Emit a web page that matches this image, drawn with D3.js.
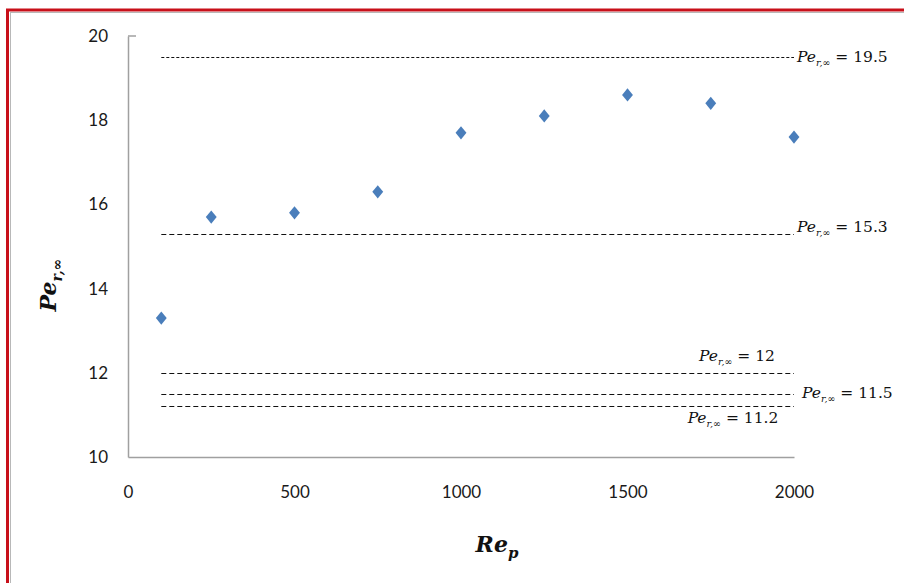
<!DOCTYPE html>
<html>
<head>
<meta charset="utf-8">
<script src="https://cdn.jsdelivr.net/npm/d3@7"></script>
<style>
  html, body { margin: 0; padding: 0; background: #fff; }
  svg { display: block; }
</style>
</head>
<body>
<svg id="chart" width="904" height="583"></svg>
<script>
// Radial Peclet number versus particle Reynolds number
const reValues = [100, 250, 500, 750, 1000, 1250, 1500, 1750, 2000];
const peValues = [13.3, 15.7, 15.8, 16.3, 17.7, 18.1, 18.6, 18.4, 17.6];

// Reference levels drawn as dashed lines
const refLevels = [19.5, 15.3, 12, 11.5, 11.2];
const refLabels = ["19.5", "15.3", "12", "11.5", "11.2"];

const xTicks = [0, 500, 1000, 1500, 2000];
const yTicks = [10, 12, 14, 16, 18, 20];

const svg = d3.select("#chart");

// frame
svg.append("rect").attr("x", 10.5).attr("y", 12.5).attr("width", 900).attr("height", 600)
  .attr("fill", "none").attr("stroke", "#b8b8b8").attr("stroke-width", 1);
svg.append("rect").attr("x", 7.5).attr("y", 10).attr("width", 905).attr("height", 600)
  .attr("fill", "none").attr("stroke", "#c8101a").attr("stroke-width", 3);

const x = d3.scaleLinear().domain([0, 2000]).range([128, 794]);
const y = d3.scaleLinear().domain([10, 20]).range([457, 36]);

const axisColor = "#a0a0a0";
const tickFont = "Lato, 'Liberation Sans', sans-serif";

// y axis
const yAxis = svg.append("g").attr("transform", "translate(128,0)")
  .call(d3.axisLeft(y).tickValues(yTicks).tickFormat(d3.format("d")).tickSize(0).tickPadding(20));
yAxis.select(".domain").attr("stroke", axisColor).attr("stroke-width", 1.5);
yAxis.selectAll("text").attr("font-family", tickFont).attr("font-size", 17).attr("fill", "#1a1a1a");
// small cap at top of y axis
svg.append("line").attr("x1", 128).attr("x2", 136).attr("y1", y(20)).attr("y2", y(20))
  .attr("stroke", axisColor).attr("stroke-width", 1.5);

// x axis
const xAxis = svg.append("g").attr("transform", "translate(0,457)")
  .call(d3.axisBottom(x).tickValues(xTicks).tickFormat(d3.format("d")).tickSize(0).tickPadding(29));
xAxis.select(".domain").attr("stroke", axisColor).attr("stroke-width", 1.5);
xAxis.selectAll("text").attr("font-family", tickFont).attr("font-size", 17).attr("fill", "#1a1a1a");

// reference lines
const lineStart = 100, lineEnd = 2000;
svg.append("g").selectAll("line").data(refLevels).join("line")
  .attr("x1", x(lineStart)).attr("x2", x(lineEnd))
  .attr("y1", d => Math.round(y(d)) + 0.5).attr("y2", d => Math.round(y(d)) + 0.5)
  .attr("stroke", "#111").attr("stroke-width", 1.2)
  .attr("stroke-dasharray", (d, i) => i === 0 ? "3,2" : "5,3");

// reference labels
const labelPos = [
  { dx: 797, dy: 62, anchor: "start" },
  { dx: 797, dy: 232, anchor: "start" },
  { dx: 737, dy: 361, anchor: "middle" },
  { dx: 802, dy: 398, anchor: "start" },
  { dx: 733, dy: 423, anchor: "middle" }
];
const labelG = svg.append("g");
refLabels.forEach((lab, i) => {
  const p = labelPos[i];
  const t = labelG.append("text")
    .attr("x", p.dx).attr("y", p.dy)
    .attr("text-anchor", p.anchor)
    .attr("font-family", "'DejaVu Serif', 'Liberation Serif', serif")
    .attr("font-size", 15.5).attr("fill", "#111");
  t.append("tspan").attr("font-style", "italic").text("Pe");
  t.append("tspan").attr("font-style", "italic").attr("font-size", 9.5).attr("dy", 4).text("r,∞");
  t.append("tspan").attr("dy", -4).text(" = " + lab);
});

// data markers
const diamond = d3.symbol().type(d3.symbolDiamond).size(56);
svg.append("g").selectAll("path").data(reValues).join("path")
  .attr("d", diamond)
  .attr("transform", (d, i) => `translate(${x(d)},${y(peValues[i])}) scale(1.35,0.95)`)
  .attr("fill", "#4a7ebb");

// axis titles
const yTitle = svg.append("text")
  .attr("transform", "translate(56,285) rotate(-90)")
  .attr("text-anchor", "middle")
  .attr("font-family", "'DejaVu Serif', 'Liberation Serif', serif")
  .attr("font-weight", "bold").attr("font-style", "italic")
  .attr("font-size", 22).attr("fill", "#111");
yTitle.append("tspan").text("Pe");
yTitle.append("tspan").attr("font-size", 14).attr("dy", 6).text("r,∞");

const xTitle = svg.append("text")
  .attr("x", 497).attr("y", 552)
  .attr("text-anchor", "middle")
  .attr("font-family", "'DejaVu Serif', 'Liberation Serif', serif")
  .attr("font-weight", "bold").attr("font-style", "italic")
  .attr("font-size", 22).attr("fill", "#111");
xTitle.append("tspan").text("Re");
xTitle.append("tspan").attr("font-size", 15).attr("dy", 6).text("p");
</script>
</body>
</html>
